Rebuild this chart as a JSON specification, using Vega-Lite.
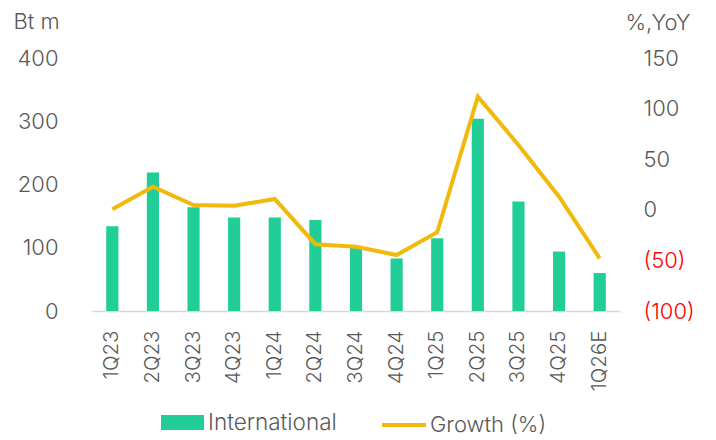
{
  "$schema": "https://vega.github.io/schema/vega-lite/v6.json",
  "width": 528,
  "height": 253,
  "autosize": "none",
  "padding": {"left": 92, "top": 58, "right": 96, "bottom": 129},
  "background": "white",
  "config": {
    "view": {"stroke": null},
    "font": "Inter",
    "axis": {"labelFont": "Inter", "titleFont": "Inter", "labelColor": "#595959", "titleColor": "#595959", "labelFontWeight": 300, "grid": false, "ticks": false},
    "legend": {"labelFont": "Inter", "labelColor": "#595959", "labelFontWeight": 300}
  },
  "data": {
    "values": [
      {"q": "1Q23", "intl": 134, "growth": 0.5},
      {"q": "2Q23", "intl": 219, "growth": 22.8},
      {"q": "3Q23", "intl": 164, "growth": 4.7},
      {"q": "4Q23", "intl": 148, "growth": 4},
      {"q": "1Q24", "intl": 148, "growth": 10.7},
      {"q": "2Q24", "intl": 144, "growth": -34},
      {"q": "3Q24", "intl": 102, "growth": -36.5},
      {"q": "4Q24", "intl": 83, "growth": -44.7},
      {"q": "1Q25", "intl": 115, "growth": -22.2},
      {"q": "2Q25", "intl": 304, "growth": 111.8},
      {"q": "3Q25", "intl": 173, "growth": 64},
      {"q": "4Q25", "intl": 94, "growth": 13},
      {"q": "1Q26E", "intl": 60, "growth": -48}
    ]
  },
  "encoding": {
    "x": {
      "field": "q", "type": "nominal", "sort": null,
      "scale": {"paddingInner": 0.7, "paddingOuter": 0.35},
      "axis": {"title": null, "labelAngle": -90, "labelFontSize": 20.5, "labelPadding": 19, "domainColor": "#D9D9D9", "domainWidth": 1.5}
    }
  },
  "layer": [
    {
      "mark": {"type": "bar"},
      "encoding": {
        "y": {
          "field": "intl", "type": "quantitative",
          "scale": {"domain": [0, 400]},
          "axis": {"values": [0, 100, 200, 300, 400], "domain": false, "labelFontSize": 22, "labelPadding": 34, "title": "Bt m", "titleAngle": 0, "titleAlign": "left", "titleBaseline": "middle", "titleX": -79, "titleY": -37, "titleFontSize": 22, "titleFontWeight": 300}
        },
        "fill": {
          "datum": "International", "type": "nominal",
          "scale": {"range": ["#22CE98"]},
          "legend": {"title": null, "orient": "none", "legendX": 69, "legendY": 343, "padding": 0, "symbolType": "M-1,-0.35L1,-0.35L1,0.35L-1,0.35Z", "symbolSize": 1849, "labelFontSize": 22.5, "labelOffset": 4, "symbolStrokeWidth": 0}
        }
      }
    },
    {
      "mark": {"type": "line", "strokeWidth": 4},
      "encoding": {
        "y": {
          "field": "growth", "type": "quantitative",
          "scale": {"domain": [-100, 150]},
          "axis": {"orient": "right", "values": [-100, -50, 0, 50, 100, 150], "domain": false, "labelFontSize": 22, "labelPadding": 23,
            "labelExpr": "datum.value < 0 ? '(' + abs(datum.value) + ')' : datum.label",
            "labelColor": {"condition": {"test": "datum.value < 0", "value": "#FF0000"}, "value": "#595959"},
            "title": "%,YoY", "titleAngle": 0, "titleAlign": "left", "titleBaseline": "middle", "titleX": 5, "titleY": -36, "titleFontSize": 22, "titleFontWeight": 300}
        },
        "stroke": {
          "datum": "Growth (%)", "type": "nominal",
          "scale": {"range": ["#F0B90B"]},
          "legend": {"title": null, "orient": "none", "legendX": 288, "legendY": 343, "padding": 0, "symbolType": "stroke", "symbolSize": 1936, "symbolStrokeWidth": 4, "labelFontSize": 22, "labelOffset": 2}
        }
      }
    }
  ],
  "resolve": {"scale": {"y": "independent", "fill": "independent", "stroke": "independent"}}
}
